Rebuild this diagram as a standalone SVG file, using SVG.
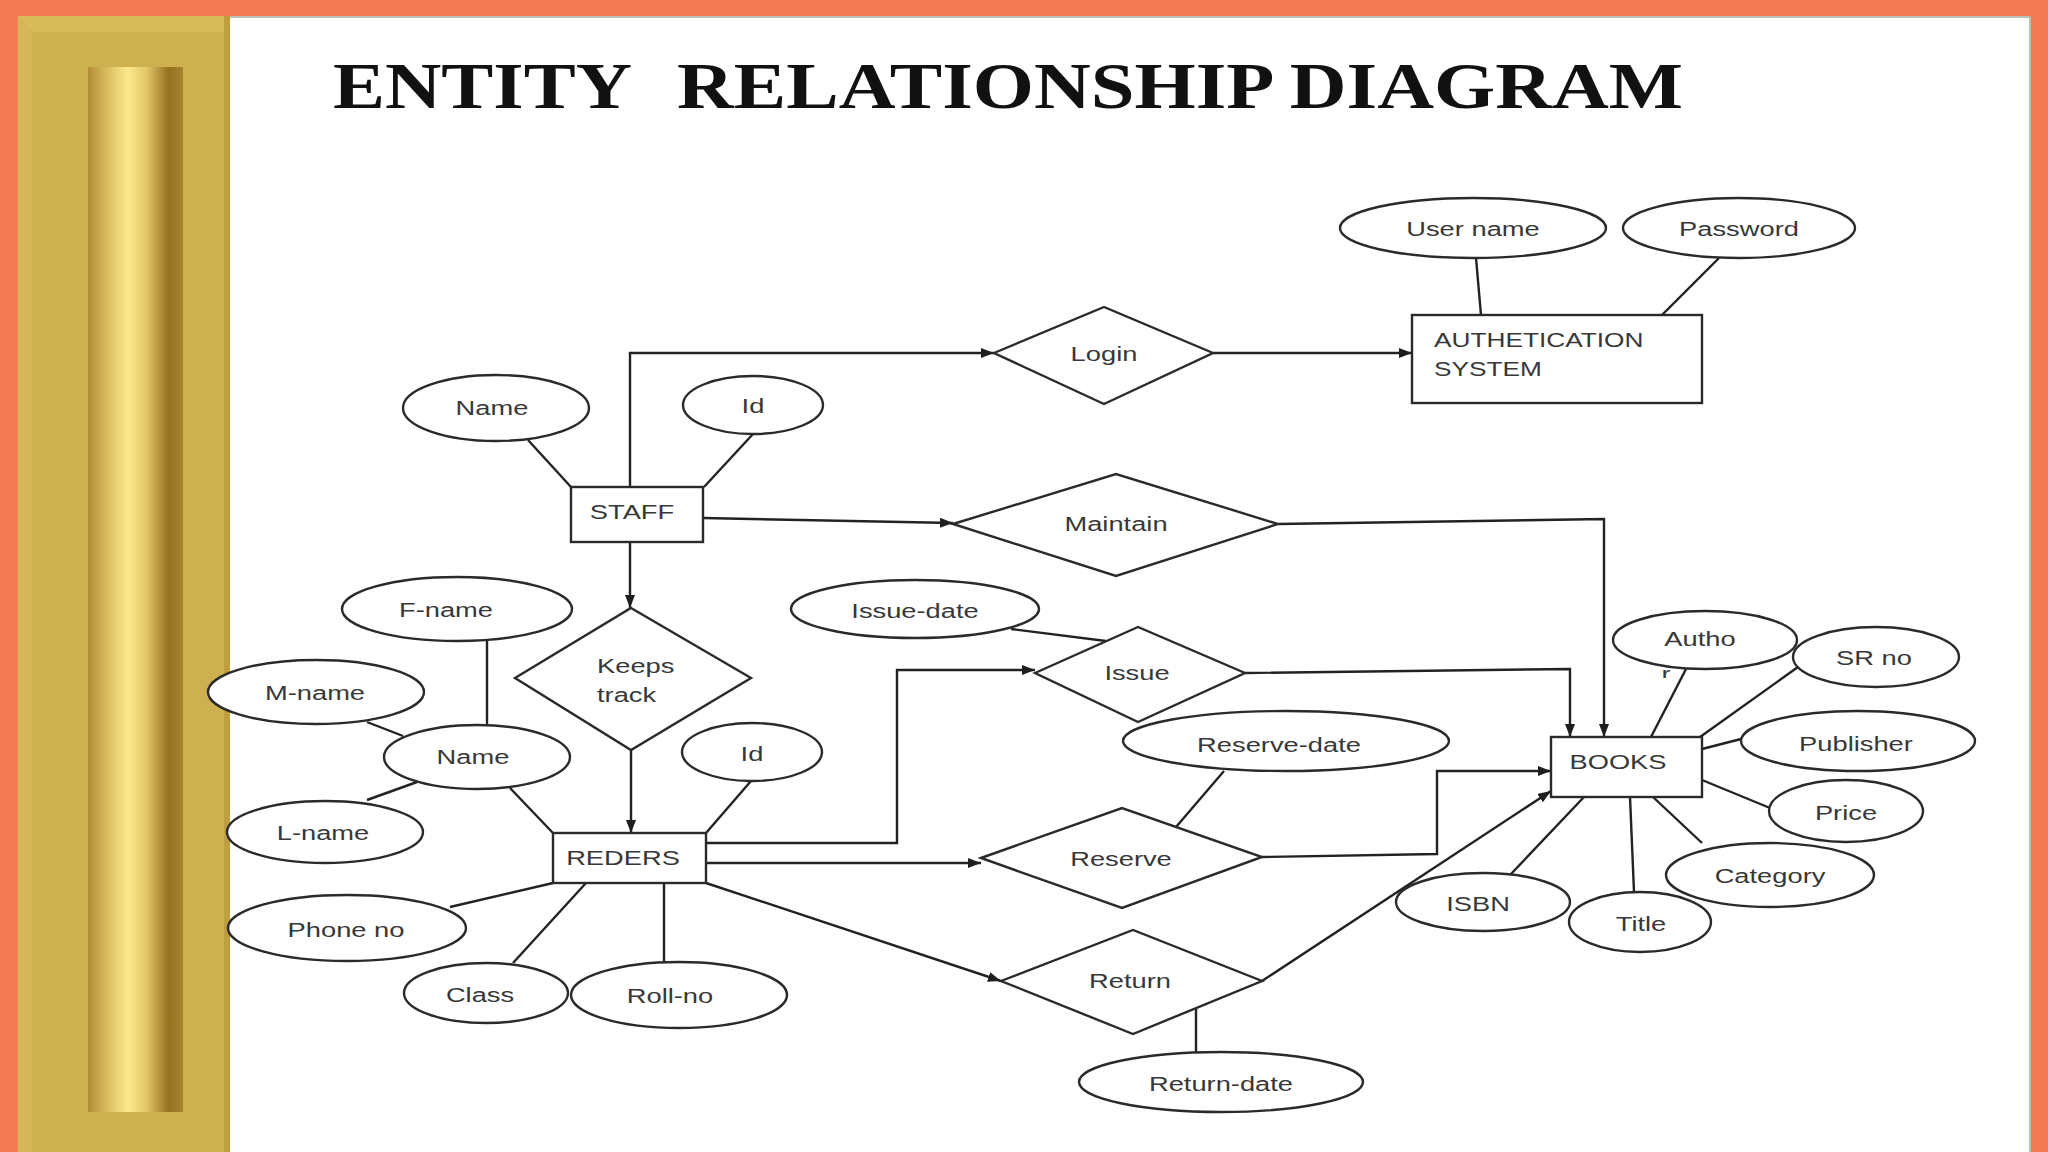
<svg xmlns="http://www.w3.org/2000/svg" width="2048" height="1152" viewBox="0 0 2048 1152">
<defs>
<linearGradient id="bar" x1="0" y1="0" x2="1" y2="0">
<stop offset="0" stop-color="#B08C34"/>
<stop offset="0.18" stop-color="#D6B85C"/>
<stop offset="0.42" stop-color="#FBEA8C"/>
<stop offset="0.62" stop-color="#E2C466"/>
<stop offset="0.85" stop-color="#93701F"/>
<stop offset="1" stop-color="#A8842E"/>
</linearGradient>
<marker id="arr" markerUnits="userSpaceOnUse" markerWidth="14" markerHeight="12" refX="13" refY="5" orient="auto">
<path d="M0,0 L13,5 L0,10 z" fill="#1e1e1e"/>
</marker>
<clipPath id="rclip"><rect x="1650" y="662" width="40" height="16"/></clipPath>
<style>
.bg{fill:#F57B55}
.sh{fill:#ffffff;stroke:#2a2a2a;stroke-width:2.4}
.c{fill:none;stroke:#222;stroke-width:2.4}
.a{fill:none;stroke:#222;stroke-width:2.4;marker-end:url(#arr)}
.t{font-family:"Liberation Sans",Arial,sans-serif;font-size:21px;fill:#383838;text-anchor:middle}
.ts{font-family:"Liberation Sans",Arial,sans-serif;font-size:21px;fill:#383838;text-anchor:start}
.title{font-family:"Liberation Serif","Times New Roman",serif;font-weight:bold;font-size:66px;fill:#111}
</style>
</defs>

<!-- frame -->
<rect x="0" y="0" width="2048" height="1152" class="bg"/>
<rect x="18" y="16" width="2012" height="1136" fill="#ffffff"/>
<line x1="230" y1="17" x2="2030" y2="17" stroke="#b9c0b6" stroke-width="2"/>
<line x1="2030" y1="17" x2="2030" y2="1152" stroke="#b9c0b6" stroke-width="2"/>
<rect x="18" y="16" width="212" height="1136" fill="#CDB04F"/>
<polygon points="18,16 230,16 224,32 32,32" fill="#D7BC5C"/>
<polygon points="18,16 32,32 32,1152 18,1152" fill="#D3B758"/>
<rect x="224" y="16" width="6" height="1136" fill="#BE9F40"/>
<rect x="88" y="67" width="95" height="1045" fill="url(#bar)"/>

<!-- title -->
<text class="title" x="333" y="108" textLength="299" lengthAdjust="spacingAndGlyphs">ENTITY</text>
<text class="title" x="677" y="108" textLength="1006" lengthAdjust="spacingAndGlyphs">RELATIONSHIP DIAGRAM</text>

<!-- connectors -->
<g id="connectors">
<path class="a" d="M630,487 V353 H994"/>
<path class="a" d="M1213,353 H1412"/>
<path class="c" d="M1476,258 L1481,315"/>
<path class="c" d="M1719,258 L1662,315"/>
<path class="c" d="M528,440 L571,487"/>
<path class="c" d="M753,434 L704,487"/>
<path class="a" d="M703,518 L953,523"/>
<path class="a" d="M1278,524 L1604,519 V737"/>
<path class="a" d="M630,542 V608"/>
<path class="a" d="M631,750 V833"/>
<path class="c" d="M487,641 V725"/>
<path class="c" d="M367,722 L403,736"/>
<path class="c" d="M367,800 L417,782"/>
<path class="c" d="M510,788 L553,833"/>
<path class="c" d="M751,781 L706,833"/>
<path class="c" d="M450,907 L553,883"/>
<path class="c" d="M513,963 L586,883"/>
<path class="c" d="M664,883 V962"/>
<path class="a" d="M706,843 H897 V670 H1035"/>
<path class="a" d="M706,863 H981"/>
<path class="a" d="M706,883 L1001,981"/>
<path class="c" d="M1011,629 L1106,641"/>
<path class="a" d="M1245,673 L1570,669 V737"/>
<path class="c" d="M1224,771 L1176,827"/>
<path class="a" d="M1262,857 L1437,854 V771 H1551"/>
<path class="a" d="M1262,981 L1551,791"/>
<path class="c" d="M1196,1008 V1052"/>
<path class="c" d="M1686,669 L1651,737"/>
<path class="c" d="M1798,667 L1700,737"/>
<path class="c" d="M1741,739 L1702,749"/>
<path class="c" d="M1770,808 L1702,780"/>
<path class="c" d="M1653,797 L1702,843"/>
<path class="c" d="M1630,797 L1634,892"/>
<path class="c" d="M1511,874 L1584,797"/>
</g>

<!-- nodes -->
<g id="login"><polygon class="sh" points="994,353 1104,307 1213,353 1104,404"/><text class="t" transform="translate(1104,361) scale(1.3,1)">Login</text></g>
<g id="auth"><rect class="sh" x="1412" y="315" width="290" height="88"/><text class="ts" transform="translate(1434,347) scale(1.25,1)">AUTHETICATION</text><text class="ts" transform="translate(1434,376) scale(1.25,1)">SYSTEM</text></g>
<g id="username"><ellipse class="sh" cx="1473" cy="228" rx="133" ry="30"/><text class="t" transform="translate(1473,236) scale(1.3,1)">User name</text></g>
<g id="password"><ellipse class="sh" cx="1739" cy="228" rx="116" ry="30"/><text class="t" transform="translate(1739,236) scale(1.3,1)">Password</text></g>
<g id="staff-name"><ellipse class="sh" cx="496" cy="408" rx="93" ry="33"/><text class="t" transform="translate(492,415) scale(1.3,1)">Name</text></g>
<g id="staff-id"><ellipse class="sh" cx="753" cy="405" rx="70" ry="29"/><text class="t" transform="translate(753,413) scale(1.3,1)">Id</text></g>
<g id="staff"><rect class="sh" x="571" y="487" width="132" height="55"/><text class="t" transform="translate(632,519) scale(1.3,1)">STAFF</text></g>
<g id="maintain"><polygon class="sh" points="953,524 1116,474 1278,524 1116,576"/><text class="t" transform="translate(1116,531) scale(1.3,1)">Maintain</text></g>
<g id="keeps-track"><polygon class="sh" points="631,608 751,678 631,750 515,678"/><text class="ts" transform="translate(597,673) scale(1.3,1)">Keeps</text><text class="ts" transform="translate(597,702) scale(1.3,1)">track</text></g>
<g id="readers"><rect class="sh" x="553" y="833" width="153" height="50"/><text class="t" transform="translate(623,865) scale(1.3,1)">REDERS</text></g>
<g id="fname"><ellipse class="sh" cx="457" cy="609" rx="115" ry="32"/><text class="t" transform="translate(446,617) scale(1.3,1)">F-name</text></g>
<g id="mname"><ellipse class="sh" cx="316" cy="692" rx="108" ry="32"/><text class="t" transform="translate(315,700) scale(1.3,1)">M-name</text></g>
<g id="readers-name"><ellipse class="sh" cx="477" cy="757" rx="93" ry="32"/><text class="t" transform="translate(473,764) scale(1.3,1)">Name</text></g>
<g id="lname"><ellipse class="sh" cx="325" cy="832" rx="98" ry="31"/><text class="t" transform="translate(323,840) scale(1.3,1)">L-name</text></g>
<g id="readers-id"><ellipse class="sh" cx="752" cy="752" rx="70" ry="29"/><text class="t" transform="translate(752,761) scale(1.3,1)">Id</text></g>
<g id="phone"><ellipse class="sh" cx="347" cy="928" rx="119" ry="33"/><text class="t" transform="translate(346,937) scale(1.3,1)">Phone no</text></g>
<g id="class"><ellipse class="sh" cx="486" cy="993" rx="82" ry="30"/><text class="t" transform="translate(480,1002) scale(1.3,1)">Class</text></g>
<g id="rollno"><ellipse class="sh" cx="679" cy="995" rx="108" ry="33"/><text class="t" transform="translate(670,1003) scale(1.3,1)">Roll-no</text></g>
<g id="issue-date"><ellipse class="sh" cx="915" cy="609" rx="124" ry="29"/><text class="t" transform="translate(915,618) scale(1.3,1)">Issue-date</text></g>
<g id="issue"><polygon class="sh" points="1035,673 1138,627 1245,673 1138,722"/><text class="t" transform="translate(1137,680) scale(1.3,1)">Issue</text></g>
<g id="reserve-date"><ellipse class="sh" cx="1286" cy="741" rx="163" ry="30"/><text class="t" transform="translate(1279,752) scale(1.3,1)">Reserve-date</text></g>
<g id="reserve"><polygon class="sh" points="981,858 1122,808 1262,857 1122,908"/><text class="t" transform="translate(1121,866) scale(1.3,1)">Reserve</text></g>
<g id="return"><polygon class="sh" points="1001,981 1133,930 1262,981 1133,1034"/><text class="t" transform="translate(1130,988) scale(1.3,1)">Return</text></g>
<g id="return-date"><ellipse class="sh" cx="1221" cy="1082" rx="142" ry="30"/><text class="t" transform="translate(1221,1091) scale(1.3,1)">Return-date</text></g>
<g id="books"><rect class="sh" x="1551" y="737" width="151" height="60"/><text class="t" transform="translate(1618,769) scale(1.3,1)">BOOKS</text></g>
<g id="author"><ellipse class="sh" cx="1705" cy="640" rx="92" ry="29"/><text class="t" transform="translate(1700,646) scale(1.3,1)">Autho</text><g clip-path="url(#rclip)"><text class="t" transform="translate(1666,681) scale(1.3,1)">r</text></g></g>
<g id="srno"><ellipse class="sh" cx="1876" cy="657" rx="83" ry="30"/><text class="t" transform="translate(1874,665) scale(1.3,1)">SR no</text></g>
<g id="publisher"><ellipse class="sh" cx="1858" cy="741" rx="117" ry="30"/><text class="t" transform="translate(1856,751) scale(1.3,1)">Publisher</text></g>
<g id="price"><ellipse class="sh" cx="1846" cy="811" rx="77" ry="31"/><text class="t" transform="translate(1846,820) scale(1.3,1)">Price</text></g>
<g id="category"><ellipse class="sh" cx="1770" cy="875" rx="104" ry="32"/><text class="t" transform="translate(1770,883) scale(1.3,1)">Category</text></g>
<g id="title"><ellipse class="sh" cx="1640" cy="922" rx="71" ry="30"/><text class="t" transform="translate(1641,931) scale(1.3,1)">Title</text></g>
<g id="isbn"><ellipse class="sh" cx="1483" cy="902" rx="87" ry="29"/><text class="t" transform="translate(1478,911) scale(1.3,1)">ISBN</text></g>
</svg>
